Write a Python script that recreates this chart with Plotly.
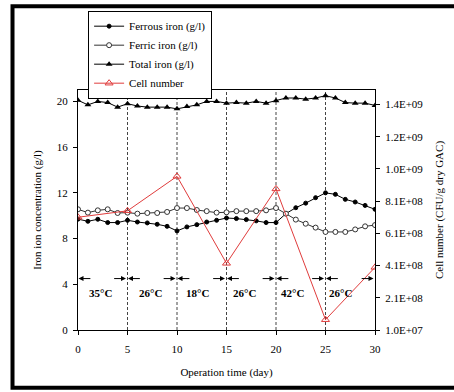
import plotly.graph_objects as go

days = list(range(31))
ferrous = [9.7, 9.51, 9.69, 9.4, 9.4, 9.6, 9.45, 9.37, 9.25, 9.07, 8.67, 9.02, 9.22, 9.45, 9.6,
           9.8, 9.75, 9.66, 9.55, 9.4, 9.4, 10.18, 10.7, 11.1, 11.58, 12.0, 11.87, 11.43, 11.2, 10.9, 10.56]
ferric = [10.56, 10.27, 10.47, 10.56, 10.24, 10.27, 10.18, 10.24, 10.24, 10.33, 10.67, 10.67, 10.5, 10.4, 10.27,
          10.3, 10.4, 10.4, 10.4, 10.47, 10.67, 10.18, 9.66, 9.3, 8.96, 8.58, 8.58, 8.58, 8.8, 9.07, 9.18]
total = [20.1, 19.7, 20.0, 19.9, 19.5, 19.8, 19.6, 19.5, 19.5, 19.5, 19.35, 19.55, 19.7, 20.0, 20.0,
         19.85, 19.9, 19.85, 20.0, 19.85, 20.05, 20.3, 20.3, 20.2, 20.3, 20.5, 20.3, 19.9, 19.85, 19.85, 19.65]
cell_days = [0, 5, 10, 15, 20, 25, 30]
cell_number = [7.1e8, 7.5e8, 9.64e8, 4.24e8, 8.86e8, 7.4e7, 3.99e8]

left_ticks = [0, 4, 8, 12, 16, 20]
right_tickvals = [1.0e7, 2.1e8, 4.1e8, 6.1e8, 8.1e8, 1.01e9, 1.21e9, 1.41e9]
right_ticktext = ["1.0E+07", "2.1E+08", "4.1E+08", "6.1E+08", "8.1E+08", "1.0E+09", "1.2E+09", "1.4E+09"]
x_ticks = [0, 5, 10, 15, 20, 25, 30]

boundaries = [5, 10, 15, 20, 25]
seg_starts = [0, 5, 10, 15, 20, 25]
seg_ends = [5, 10, 15, 20, 25, 30]
temp_labels = ["35°C", "26°C", "18°C", "26°C", "42°C", "26°C"]
temp_label_x = [2.3, 7.3, 12.1, 16.8, 21.7, 26.5]
arrow_y = 4.5
label_y = 3.2

FONT = "Liberation Serif"
RED = "#e03c3c"

fig = go.Figure()
fig.add_trace(go.Scatter(x=days, y=ferrous, name="Ferrous iron (g/l)", mode="lines+markers",
                         line=dict(color="black", width=1),
                         marker=dict(symbol="circle", size=4, color="black", line=dict(color="black", width=1))))
fig.add_trace(go.Scatter(x=days, y=ferric, name="Ferric iron (g/l)", mode="lines+markers",
                         line=dict(color="#333333", width=1),
                         marker=dict(symbol="circle", size=5, color="white", line=dict(color="#333333", width=1))))
fig.add_trace(go.Scatter(x=days, y=total, name="Total iron (g/l)", mode="lines+markers",
                         line=dict(color="black", width=1),
                         marker=dict(symbol="triangle-up", size=6, color="black")))
fig.add_trace(go.Scatter(x=cell_days, y=cell_number, name="Cell number", mode="lines+markers", yaxis="y2",
                         line=dict(color=RED, width=1),
                         marker=dict(symbol="triangle-up-open", size=7, color=RED, line=dict(color=RED, width=1))))

shapes = []
for b in boundaries:
    shapes.append(dict(type="line", xref="x", yref="y", x0=b, x1=b, y0=0, y1=21,
                       line=dict(color="#444444", width=1, dash="3px,2px"), layer="below"))
# outer frame
shapes.append(dict(type="rect", xref="paper", yref="paper", x0=-0.2205, x1=1.35, y0=-0.2407, y1=1.3485,
                   line=dict(color="black", width=4)))

annotations = []
for s in seg_starts:
    annotations.append(dict(x=s + 0.05, y=arrow_y, ax=s + 1.4, ay=arrow_y, xref="x", yref="y",
                            axref="x", ayref="y", text="", showarrow=True, arrowhead=2,
                            arrowsize=1, arrowwidth=1, arrowcolor="black"))
for e in seg_ends:
    annotations.append(dict(x=e - 0.15, y=arrow_y, ax=e - 1.5, ay=arrow_y, xref="x", yref="y",
                            axref="x", ayref="y", text="", showarrow=True, arrowhead=2,
                            arrowsize=1, arrowwidth=1, arrowcolor="black"))
for tx, tl in zip(temp_label_x, temp_labels):
    annotations.append(dict(x=tx, y=label_y, xref="x", yref="y", text="<b>" + tl + "</b>", showarrow=False,
                            font=dict(family=FONT, size=11, color="black")))

fig.update_layout(
    width=454, height=392,
    margin=dict(l=78, r=79, t=89, b=62),
    paper_bgcolor="white", plot_bgcolor="white",
    font=dict(family=FONT, size=11, color="black"),
    showlegend=True,
    legend=dict(x=0.034, y=1.325, xanchor="left", yanchor="top", bordercolor="black", borderwidth=1,
                font=dict(family=FONT, size=11, color="black"), bgcolor="white",
                itemwidth=30, tracegroupgap=0),
    xaxis=dict(range=[0, 30], tickvals=x_ticks, showline=True, linecolor="black", linewidth=1, mirror=True,
               ticks="outside", ticklen=4, tickcolor="black", showgrid=False, zeroline=False,
               ticklabelstandoff=5,
               title=dict(text="Operation time (day)", standoff=14, font=dict(size=11))),
    yaxis=dict(range=[0, 21], tickvals=left_ticks, showline=True, linecolor="black", linewidth=1,
               ticks="outside", ticklen=4, tickcolor="black", showgrid=False, zeroline=False,
               ticklabelstandoff=3,
               title=dict(text="Iron ion concentration (g/l)", standoff=12, font=dict(size=11))),
    yaxis2=dict(range=[1.0e7, 1.5e9], overlaying="y", side="right", tickvals=right_tickvals,
                ticktext=right_ticktext, showline=True, linecolor="black", linewidth=1,
                ticks="outside", ticklen=4, tickcolor="black", showgrid=False, zeroline=False,
                ticklabelstandoff=3,
                title=dict(text="Cell number (CFU/g dry GAC)", standoff=12, font=dict(size=11))),
    shapes=shapes, annotations=annotations,
)

fig.write_html("out.html")
